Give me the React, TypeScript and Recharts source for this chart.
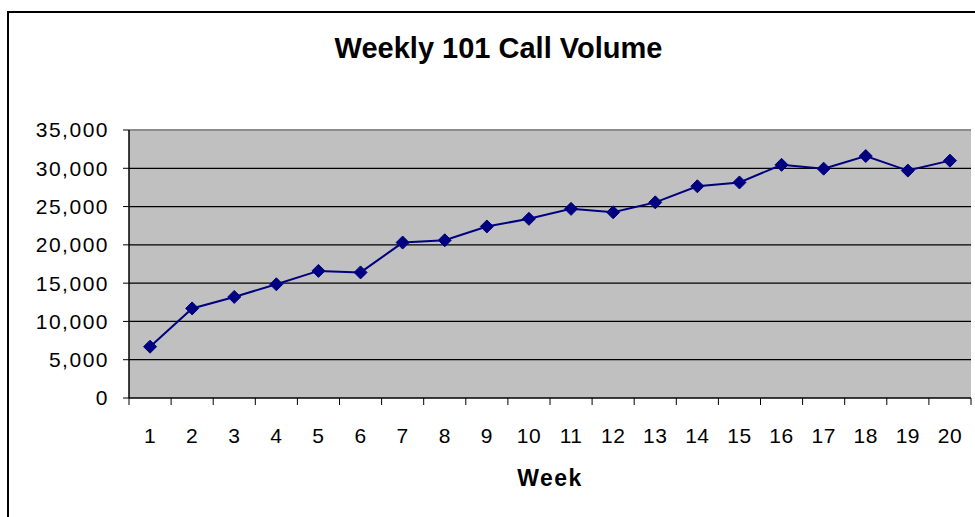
import { LineChart, Line, XAxis, YAxis, CartesianGrid, ReferenceLine } from 'recharts'

const weeks = [1, 2, 3, 4, 5, 6, 7, 8, 9, 10, 11, 12, 13, 14, 15, 16, 17, 18, 19, 20]
const calls = [
  6700, 11700, 13200, 14850, 16600, 16400, 20300, 20600, 22400, 23400,
  24700, 24250, 25550, 27650, 28150, 30450, 29950, 31600, 29700, 31000,
]
const yTicks = [0, 5000, 10000, 15000, 20000, 25000, 30000, 35000]
const gridValues = [5000, 10000, 15000, 20000, 25000, 30000]

const data = weeks.map((week, i) => ({ week, calls: calls[i] }))

// labels sit on the week, tick marks sit between weeks
const xTicks = [...weeks.flatMap((w) => [w - 0.5, w]), weeks[weeks.length - 1] + 0.5]

const font = '"Liberation Sans", Arial, sans-serif'

function WeekTick(props: any) {
  const { x, y, payload } = props
  if (Number.isInteger(payload.value)) {
    return (
      <text x={x} y={y + 38} textAnchor="middle" fontSize={21} fill="#000" fontFamily={font} letterSpacing={0.5}>
        {payload.value}
      </text>
    )
  }
  return <line x1={x} x2={x} y1={y - 7} y2={y} stroke="#000" strokeWidth={1} />
}

function Diamond(props: any) {
  const { cx, cy } = props
  if (cx == null || cy == null) return null
  const r = 6.5
  return (
    <polygon
      points={`${cx},${cy - r} ${cx + r},${cy} ${cx},${cy + r} ${cx - r},${cy}`}
      fill="#000080"
      stroke="#000080"
    />
  )
}

export default function App() {
  return (
    <div
      style={{
        position: 'absolute',
        left: 0,
        top: 0,
        width: 975,
        height: 517,
        overflow: 'hidden',
        background: '#fff',
        fontFamily: font,
      }}
    >
      <div
        style={{
          position: 'absolute',
          left: 7,
          top: 11,
          right: -10,
          bottom: -10,
          borderTop: '2px solid #000',
          borderLeft: '2px solid #000',
        }}
      />
      <div
        style={{
          position: 'absolute',
          left: 0,
          top: 34,
          width: 997,
          textAlign: 'center',
          fontSize: 29,
          lineHeight: '28px',
          fontWeight: 'bold',
          color: '#000',
        }}
      >
        Weekly 101 Call Volume
      </div>
      <LineChart
        width={975}
        height={517}
        data={data}
        margin={{ top: 130, right: 4, bottom: 0, left: 0 }}
        style={{ position: 'absolute', left: 0, top: 0 }}
      >
        <CartesianGrid
          vertical={false}
          horizontalValues={gridValues}
          fill="#c0c0c0"
          fillOpacity={1}
          stroke="#000"
          strokeWidth={1.2}
        />
        <ReferenceLine y={35000} stroke="#8c8c8c" strokeWidth={2} />
        <XAxis
          dataKey="week"
          type="number"
          domain={[0.5, 20.5]}
          ticks={xTicks}
          interval={0}
          height={119}
          tickLine={false}
          tickSize={7}
          tickMargin={0}
          axisLine={{ stroke: '#000', strokeWidth: 1.5 }}
          tick={<WeekTick />}
          label={{
            value: 'Week',
            position: 'insideBottom',
            offset: 31,
            fontSize: 23,
            fontWeight: 'bold',
            fill: '#000',
            fontFamily: font,
            letterSpacing: 1.5,
          }}
        />
        <YAxis
          domain={[0, 35000]}
          ticks={yTicks}
          interval={0}
          width={129}
          tickSize={6}
          tickMargin={14}
          tickFormatter={(v: number) => v.toLocaleString('en-US')}
          tick={{ fontSize: 21, fill: '#000', fontFamily: font, letterSpacing: 1.5 }}
          tickLine={{ stroke: '#000' }}
          axisLine={{ stroke: '#000', strokeWidth: 1.5 }}
        />
        <YAxis
          yAxisId="frame"
          orientation="right"
          width={0}
          tick={false}
          tickLine={false}
          axisLine={{ stroke: '#8c8c8c', strokeWidth: 2 }}
        />
        <Line
          dataKey="calls"
          type="linear"
          stroke="#000080"
          strokeWidth={2}
          dot={<Diamond />}
          activeDot={false}
          isAnimationActive={false}
        />
      </LineChart>
    </div>
  )
}
